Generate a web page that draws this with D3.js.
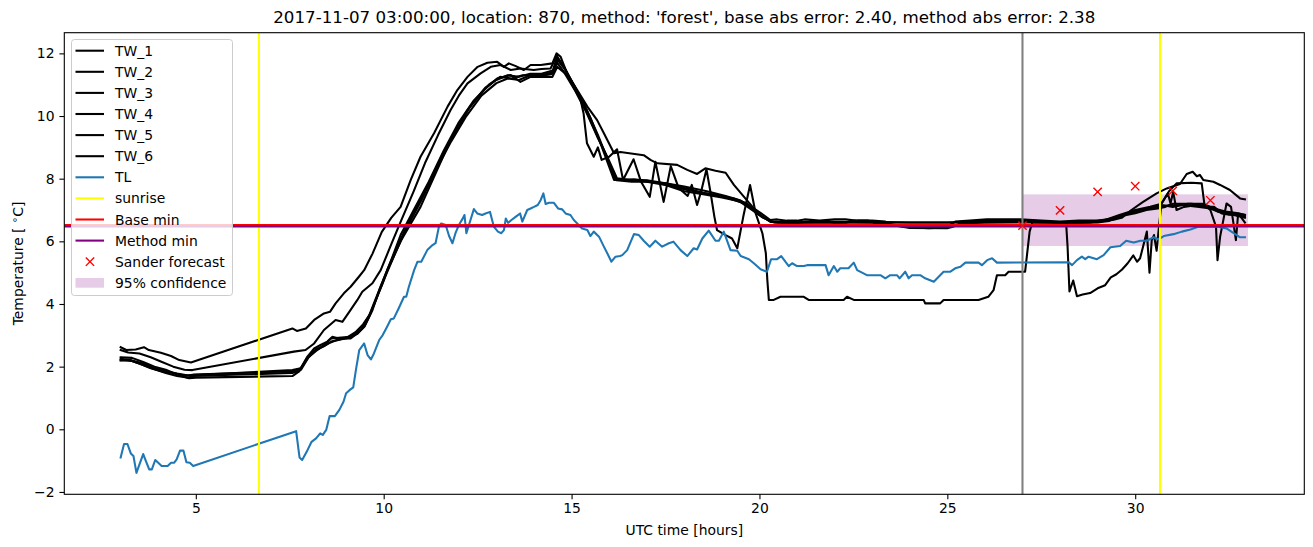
<!DOCTYPE html>
<html><head><meta charset="utf-8">
<script src="https://cdn.jsdelivr.net/npm/d3@7"></script>
<style>body{margin:0;background:#fff}svg{display:block}text{font-family:"DejaVu Sans",sans-serif;fill:#000}</style>
</head><body><svg id="c" width="1313" height="547"></svg>
<script>
const title = "2017-11-07 03:00:00, location: 870, method: 'forest', base abs error: 2.40, method abs error: 2.38";
const xTicks = [5,10,15,20,25,30];
const yTicks = [-2,0,2,4,6,8,10,12];
const seriesNames = ["TW_1","TW_2","TW_3","TW_4","TW_5","TW_6"];

const TW_1 = [[3.0,2.62],[3.15,2.53],[3.4,2.55],[3.62,2.62],[3.75,2.53],[4.07,2.44],[4.34,2.34],[4.56,2.21],[4.87,2.13],[7.57,3.22],[7.69,3.14],[7.93,3.22],[8.15,3.49],[8.41,3.7],[8.57,3.75],[8.72,4.02],[8.94,4.34],[9.12,4.55],[9.34,4.87],[9.48,5.08],[9.7,5.6],[9.95,6.3],[10.2,6.75],[10.45,7.1],[10.72,7.96],[10.98,8.7],[11.34,9.45],[11.7,10.3],[11.96,10.83],[12.23,11.25],[12.5,11.57],[12.76,11.7],[13.02,11.73],[13.2,11.57],[13.33,11.68],[13.5,11.6],[13.73,11.47],[13.91,11.63],[14.18,11.63],[14.49,11.68],[14.6,12.0],[14.71,11.89],[14.88,11.36],[15.15,10.83],[15.42,10.3],[15.68,9.87],[15.86,9.45],[16.13,8.81],[16.3,8.85],[16.44,8.83],[16.92,8.75],[17.1,8.6],[17.28,8.49],[17.81,8.44],[18.08,8.28],[18.34,8.15],[18.56,8.33],[18.83,8.25],[19.1,8.19],[19.32,7.8],[19.59,7.42],[19.85,7.05],[20.11,6.84],[20.29,6.68],[20.47,6.7],[20.73,6.66],[21.0,6.66],[21.2,6.7],[21.6,6.66],[22.0,6.7],[22.29,6.7],[22.6,6.66],[23.0,6.66],[23.35,6.63],[23.39,6.55],[24.06,6.47],[24.5,6.45],[25.0,6.47],[25.21,6.63],[25.6,6.66],[26.05,6.7],[26.94,6.7],[27.5,6.66],[28.0,6.63],[28.5,6.66],[29.0,6.66],[29.4,6.68],[29.64,6.75],[29.9,7.0],[30.2,7.25],[30.57,7.53],[30.84,7.69],[31.19,7.83],[31.37,8.15],[31.53,8.22],[31.64,8.08],[31.72,8.12],[31.81,7.96],[32.08,7.9],[32.26,7.8],[32.52,7.64],[32.79,7.37],[32.92,7.34]];
const TW_2 = [[3.0,2.53],[3.2,2.45],[3.5,2.42],[3.8,2.3],[4.1,2.15],[4.4,2.0],[4.7,1.9],[4.91,1.89],[7.61,2.48],[7.92,2.53],[8.15,2.74],[8.41,3.17],[8.72,3.49],[8.9,3.43],[9.12,3.81],[9.3,4.13],[9.43,4.39],[9.7,4.66],[9.92,5.08],[10.2,5.9],[10.45,6.62],[10.8,7.6],[11.1,8.5],[11.45,9.4],[11.78,10.19],[12.0,10.65],[12.23,11.04],[12.58,11.36],[12.85,11.57],[13.11,11.63],[13.38,11.47],[13.64,11.52],[13.99,11.47],[14.2,11.5],[14.44,11.52],[14.6,11.9],[14.8,11.57],[15.0,11.1],[15.24,10.61],[15.5,9.95],[15.77,9.13],[16.13,7.96],[16.66,7.98],[17.02,7.93],[17.55,7.8],[18.08,7.64],[18.79,7.48],[19.32,7.37],[19.67,7.21],[19.94,6.89],[20.29,6.63],[20.5,6.6],[21.0,6.6],[22.0,6.6],[23.0,6.62],[24.0,6.6],[25.0,6.6],[26.0,6.6],[27.0,6.62],[28.0,6.6],[28.8,6.6],[29.2,6.68],[29.6,6.85],[30.0,7.0],[30.4,7.1],[30.7,7.2],[30.9,7.6],[31.1,7.85],[31.5,7.87],[31.77,7.85],[31.85,7.1],[32.1,7.1],[32.3,6.9],[32.5,6.85],[32.7,6.85],[32.92,6.8]];
const TW_3 = [[3.0,2.2],[3.2,2.22],[3.5,2.1],[3.8,1.95],[4.1,1.85],[4.4,1.8],[4.7,1.72],[4.94,1.73],[7.57,1.89],[7.79,1.95],[7.97,2.32],[8.15,2.58],[8.32,2.69],[8.5,2.8],[8.63,2.95],[8.81,2.9],[9.12,2.9],[9.3,3.06],[9.48,3.27],[9.61,3.59],[9.79,4.13],[9.97,4.66],[10.1,5.08],[10.45,6.0],[10.98,7.1],[11.34,8.06],[11.78,9.23],[12.23,10.19],[12.67,10.83],[13.02,11.2],[13.38,11.31],[13.64,11.09],[13.91,11.25],[14.26,11.25],[14.49,11.25],[14.62,11.57],[14.88,11.31],[15.24,10.51],[15.32,10.08],[15.41,9.13],[15.59,8.7],[15.7,9.0],[15.8,8.6],[16.0,8.7],[16.21,8.94],[16.37,7.96],[16.65,8.62],[16.85,7.9],[17.08,7.42],[17.23,8.54],[17.45,7.26],[17.64,8.4],[17.85,7.7],[18.09,7.45],[18.2,7.8],[18.34,7.16],[18.45,7.6],[18.59,8.3],[18.7,7.55],[18.8,6.79],[18.87,6.36],[19.1,6.2],[19.27,6.09],[19.41,5.78],[19.57,6.79],[19.75,7.8],[19.9,6.89],[20.08,6.25],[20.17,5.62],[20.21,4.76],[20.25,4.13],[20.38,4.13],[20.56,4.23],[21.18,4.23],[21.31,4.13],[22.24,4.13],[22.33,4.23],[22.51,4.13],[24.37,4.13],[24.41,4.02],[24.81,4.02],[24.9,4.13],[25.83,4.13],[26.09,4.23],[26.23,4.44],[26.32,4.92],[26.54,4.92],[26.63,5.03],[27.07,5.03],[27.19,6.31],[27.26,6.6],[28.16,6.6],[28.2,5.83],[28.25,4.4],[28.35,4.75],[28.45,4.25],[28.6,4.3],[28.8,4.35],[29.0,4.5],[29.2,4.6],[29.35,4.85],[29.5,4.95],[29.65,5.1],[29.8,5.3],[29.95,5.55],[30.05,5.35],[30.13,5.46],[30.22,5.88],[30.31,6.31],[30.38,5.0],[30.44,6.04],[30.5,6.2],[30.57,5.7],[30.64,6.57],[30.7,7.21],[30.87,7.53],[30.94,7.21],[31.01,7.58],[31.1,7.0],[31.3,7.1],[31.6,7.15],[31.9,7.1],[32.0,7.0],[32.15,6.47],[32.19,5.4],[32.26,6.15],[32.43,7.21],[32.55,7.1],[32.68,6.04],[32.74,6.89],[32.92,6.84]];
const TW_4 = [[3.0,2.3],[3.3,2.28],[3.6,2.15],[3.9,2.0],[4.2,1.9],[4.5,1.75],[4.82,1.63],[5.0,1.65],[7.57,1.7],[7.75,1.85],[7.95,2.25],[8.15,2.5],[8.35,2.62],[8.55,2.75],[8.75,2.85],[9.0,2.9],[9.2,3.0],[9.4,3.2],[9.6,3.6],[9.8,4.2],[10.0,4.8],[10.2,5.4],[10.45,6.2],[10.8,7.0],[11.2,7.9],[11.6,8.9],[12.0,9.8],[12.4,10.5],[12.8,11.0],[13.1,11.25],[13.4,11.2],[13.7,11.3],[14.0,11.3],[14.3,11.3],[14.5,11.35],[14.62,11.7],[14.8,11.4],[15.1,10.8],[15.4,10.1],[15.7,9.3],[15.95,8.7],[16.21,8.01],[16.6,7.95],[17.0,7.9],[17.5,7.8],[18.0,7.6],[18.5,7.5],[19.0,7.4],[19.4,7.3],[19.7,7.15],[20.0,6.85],[20.3,6.62],[20.6,6.6],[21.5,6.6],[22.3,6.6],[22.5,6.66],[22.9,6.66],[23.1,6.6],[24.0,6.6],[25.0,6.6],[25.5,6.62],[26.0,6.66],[27.0,6.66],[28.0,6.6],[28.6,6.6],[29.0,6.62],[29.4,6.7],[29.7,6.85],[30.0,6.95],[30.4,7.05],[30.7,7.1],[30.9,7.15],[31.3,7.15],[31.7,7.1],[32.0,7.05],[32.3,6.9],[32.6,6.85],[32.92,6.75]];
const TW_5 = [[3.0,2.25],[3.3,2.2],[3.6,2.1],[3.9,1.95],[4.2,1.85],[4.5,1.78],[4.8,1.72],[4.95,1.75],[7.57,1.85],[7.8,1.95],[8.0,2.3],[8.2,2.55],[8.4,2.65],[8.6,2.8],[8.8,2.85],[9.05,2.95],[9.25,3.1],[9.45,3.35],[9.65,3.7],[9.85,4.3],[10.05,4.9],[10.3,5.6],[10.6,6.4],[11.0,7.3],[11.4,8.3],[11.8,9.2],[12.2,10.0],[12.6,10.65],[13.0,11.05],[13.3,11.2],[13.6,11.15],[13.9,11.3],[14.2,11.3],[14.5,11.4],[14.62,11.8],[14.85,11.45],[15.1,10.9],[15.4,10.2],[15.7,9.4],[16.0,8.5],[16.2,7.95],[16.6,7.9],[17.0,7.9],[17.5,7.85],[18.0,7.7],[18.5,7.55],[19.0,7.45],[19.5,7.25],[19.8,7.0],[20.1,6.75],[20.4,6.6],[21.0,6.6],[21.6,6.65],[22.0,6.6],[23.0,6.6],[24.0,6.45],[24.5,6.42],[25.1,6.45],[25.5,6.6],[26.0,6.6],[27.0,6.6],[27.5,6.62],[28.0,6.6],[28.7,6.6],[29.0,6.6],[29.3,6.65],[29.6,6.8],[30.0,6.9],[30.3,7.0],[30.6,7.05],[30.8,7.1],[31.0,7.2],[31.5,7.2],[31.8,7.15],[32.1,7.05],[32.4,6.95],[32.7,6.9],[32.92,6.85]];
const TW_6 = [[3.0,2.2],[3.3,2.18],[3.6,2.05],[3.9,1.92],[4.2,1.8],[4.5,1.7],[4.8,1.65],[4.95,1.7],[7.57,1.8],[7.8,1.9],[8.0,2.3],[8.2,2.5],[8.4,2.68],[8.6,2.9],[8.8,2.92],[9.1,2.95],[9.3,3.05],[9.5,3.3],[9.7,3.8],[9.9,4.5],[10.1,5.1],[10.35,5.8],[10.7,6.7],[11.1,7.6],[11.5,8.6],[11.9,9.5],[12.3,10.3],[12.7,10.9],[13.0,11.15],[13.3,11.3],[13.6,11.25],[13.9,11.35],[14.2,11.35],[14.5,11.45],[14.62,11.9],[14.8,11.55],[15.05,11.0],[15.3,10.4],[15.6,9.6],[15.9,8.8],[16.15,8.0],[16.5,7.95],[17.0,7.95],[17.5,7.85],[18.0,7.75],[18.6,7.6],[19.1,7.45],[19.5,7.3],[19.75,7.1],[20.05,6.8],[20.35,6.62],[21.0,6.6],[22.0,6.62],[23.0,6.6],[23.4,6.55],[24.0,6.43],[25.0,6.42],[25.3,6.55],[26.0,6.62],[27.0,6.62],[28.0,6.6],[28.8,6.62],[29.2,6.7],[29.5,6.75],[29.8,6.9],[30.1,7.0],[30.5,7.1],[30.75,7.15],[31.0,7.1],[31.4,7.2],[31.8,7.2],[32.0,7.1],[32.2,6.95],[32.5,6.9],[32.8,6.8],[32.92,6.6]];
const TL = [[3.0,-0.9],[3.09,-0.47],[3.18,-0.47],[3.27,-0.77],[3.34,-0.85],[3.42,-1.39],[3.51,-1.09],[3.6,-0.79],[3.68,-1.04],[3.76,-1.28],[3.83,-1.28],[3.92,-0.98],[4.0,-1.07],[4.09,-1.17],[4.18,-1.17],[4.25,-1.17],[4.34,-1.07],[4.42,-1.07],[4.49,-0.96],[4.58,-0.68],[4.67,-0.68],[4.75,-1.05],[4.84,-1.07],[4.93,-1.17],[7.67,-0.06],[7.76,-0.9],[7.83,-0.98],[7.95,-0.72],[8.08,-0.4],[8.2,-0.29],[8.31,-0.13],[8.38,-0.18],[8.47,-0.02],[8.56,0.42],[8.7,0.42],[8.82,0.62],[8.93,0.88],[9.0,1.15],[9.09,1.25],[9.19,1.34],[9.26,1.89],[9.35,2.53],[9.48,2.74],[9.57,2.37],[9.66,2.23],[9.74,2.42],[9.88,2.85],[9.97,3.0],[10.08,3.25],[10.19,3.51],[10.27,3.54],[10.41,3.89],[10.54,4.23],[10.6,4.23],[10.67,4.55],[10.81,5.08],[10.9,5.35],[11.0,5.35],[11.16,5.72],[11.3,5.88],[11.38,5.94],[11.47,6.47],[11.53,6.57],[11.65,6.52],[11.74,6.17],[11.83,5.94],[11.91,6.26],[12.0,6.52],[12.09,6.7],[12.15,6.84],[12.2,6.26],[12.31,6.68],[12.4,7.03],[12.49,6.89],[12.62,6.84],[12.71,6.89],[12.83,6.94],[12.93,6.47],[13.04,6.31],[13.13,6.26],[13.2,6.36],[13.25,6.73],[13.31,6.59],[13.4,6.68],[13.51,6.78],[13.63,6.89],[13.69,6.63],[13.82,7.0],[13.91,7.05],[14.0,7.1],[14.1,7.16],[14.18,7.32],[14.25,7.53],[14.31,7.19],[14.4,7.23],[14.53,7.23],[14.64,7.05],[14.75,7.02],[14.84,6.89],[14.97,6.84],[15.06,6.68],[15.15,6.57],[15.28,6.41],[15.42,6.36],[15.5,6.17],[15.59,6.31],[15.73,6.15],[15.86,5.83],[15.95,5.62],[16.06,5.35],[16.17,5.51],[16.29,5.53],[16.35,5.56],[16.48,5.72],[16.66,6.23],[16.79,6.2],[16.92,6.02],[17.08,5.83],[17.23,6.02],[17.41,5.83],[17.59,5.94],[17.71,5.99],[17.9,5.72],[18.08,5.53],[18.25,5.78],[18.34,5.74],[18.48,6.09],[18.65,6.34],[18.83,6.02],[18.92,6.02],[19.05,6.31],[19.23,5.72],[19.41,5.7],[19.5,5.53],[19.72,5.43],[19.85,5.3],[20.03,5.11],[20.2,5.03],[20.31,5.43],[20.47,5.43],[20.58,5.53],[20.69,5.35],[20.78,5.21],[20.87,5.3],[21.0,5.21],[21.18,5.21],[21.27,5.24],[21.44,5.24],[21.76,5.24],[21.84,4.92],[21.98,5.21],[22.07,5.03],[22.15,5.14],[22.37,5.14],[22.51,5.32],[22.6,5.08],[22.86,4.92],[23.22,4.92],[23.35,4.82],[23.48,4.92],[23.66,4.92],[23.73,4.82],[23.88,5.03],[23.97,4.82],[24.06,4.92],[24.28,4.92],[24.41,4.82],[24.64,4.71],[24.9,5.03],[25.08,5.03],[25.21,5.14],[25.35,5.19],[25.48,5.32],[25.83,5.32],[25.92,5.24],[26.06,5.4],[26.19,5.46],[26.32,5.32],[28.23,5.33],[28.32,5.24],[28.45,5.4],[28.58,5.51],[28.67,5.43],[28.76,5.51],[28.98,5.43],[29.16,5.56],[29.34,5.81],[29.6,5.85],[29.76,6.02],[29.96,5.96],[30.14,6.02],[30.31,6.02],[30.49,6.13],[30.62,6.06],[30.76,6.17],[31.02,6.23],[31.24,6.31],[31.47,6.38],[31.69,6.47],[32.21,6.47],[32.43,6.41],[32.61,6.27],[32.79,6.13],[32.92,6.13]];
const sunrise = [6.68, 30.66];
const nowLine = 27.0;
const baseMin = 6.52;
const methodMin = 6.475;
const sanderX = [27,28,29,30,31,32];
const sanderY = [6.50,6.99,7.58,7.76,7.61,7.31];
const confX = [27.0, 33.0];
const confLow = 5.85, confHigh = 7.5;

const svg = d3.select("#c");
const L=64.3,R=1304.3,T=32.7,B=494.3;
const x = d3.scaleLinear().domain([1.5,34.5]).range([L,R]);
const y = d3.scaleLinear().domain([-2.075,12.66]).range([B,T]);
const LW=2.08;
svg.append("clipPath").attr("id","clp").append("rect").attr("x",L).attr("y",T).attr("width",R-L).attr("height",B-T);
const g = svg.append("g").attr("clip-path","url(#clp)");

g.append("rect").attr("x",x(confX[0])).attr("width",x(confX[1])-x(confX[0]))
 .attr("y",y(confHigh)).attr("height",y(confLow)-y(confHigh)).attr("fill","#800080").attr("fill-opacity",0.2);

const line = d3.line().x(d=>x(d[0])).y(d=>y(d[1]));
[TW_1,TW_2,TW_3,TW_4,TW_5,TW_6].forEach(s=>{
  g.append("path").datum(s).attr("d",line).attr("fill","none").attr("stroke","#000").attr("stroke-width",LW).attr("stroke-linejoin","round").attr("stroke-linecap","square");
});
g.append("path").datum(TL).attr("d",line).attr("fill","none").attr("stroke","#1f77b4").attr("stroke-width",LW).attr("stroke-linejoin","round").attr("stroke-linecap","square");
sunrise.forEach(v=>g.append("line").attr("x1",x(v)).attr("x2",x(v)).attr("y1",T).attr("y2",B).attr("stroke","#ffff00").attr("stroke-width",LW));
g.append("line").attr("x1",L).attr("x2",R).attr("y1",y(baseMin)).attr("y2",y(baseMin)).attr("stroke","#ff0000").attr("stroke-width",LW);
g.append("line").attr("x1",L).attr("x2",R).attr("y1",y(methodMin)).attr("y2",y(methodMin)).attr("stroke","#800080").attr("stroke-width",LW);
g.append("line").attr("x1",x(nowLine)).attr("x2",x(nowLine)).attr("y1",T).attr("y2",B).attr("stroke","#808080").attr("stroke-width",LW);
const ms=4.17;
sanderX.forEach((xv,i)=>{
  const cx=x(xv), cy=y(sanderY[i]);
  g.append("path").attr("d",`M${cx-ms},${cy-ms}L${cx+ms},${cy+ms}M${cx-ms},${cy+ms}L${cx+ms},${cy-ms}`).attr("stroke","#ff0000").attr("stroke-width",1.4);
});

const fs=13.9;
const xa = svg.append("g").attr("transform",`translate(0,${B})`).call(d3.axisBottom(x).tickValues(xTicks).tickSize(4.9).tickPadding(4.2).tickFormat(d3.format("d")));
const ya = svg.append("g").attr("transform",`translate(${L},0)`).call(d3.axisLeft(y).tickValues(yTicks).tickSize(4.9).tickPadding(4.9).tickFormat(d=>d<0?"\u2212"+Math.abs(d):d));
[xa,ya].forEach(a=>{a.select(".domain").remove();a.selectAll("text").attr("font-family","DejaVu Sans").attr("font-size",fs).attr("fill","#000");a.selectAll("line").attr("stroke","#000").attr("stroke-width",1.1);});
svg.append("rect").attr("x",L).attr("y",T).attr("width",R-L).attr("height",B-T).attr("fill","none").attr("stroke","#000").attr("stroke-width",1.1);

svg.append("text").attr("x",(L+R)/2).attr("y",23).attr("text-anchor","middle").attr("font-size",16.7).text(title);
svg.append("text").attr("x",(L+R)/2).attr("y",535).attr("text-anchor","middle").attr("font-size",fs).text("UTC time [hours]");
const yl = svg.append("text").attr("transform",`translate(23,${(T+B)/2}) rotate(-90)`).attr("text-anchor","middle").attr("font-size",fs);
yl.append("tspan").text("Temperature [ ");
yl.append("tspan").attr("dy",-5).attr("font-size",10).text("\u2218");
yl.append("tspan").attr("dy",5).text("C]");

const lg = svg.append("g");
const lx=71.5, ly=39.5, lw=161, lh=256;
lg.append("rect").attr("x",lx).attr("y",ly).attr("width",lw).attr("height",lh).attr("rx",3).attr("fill","#fff").attr("fill-opacity",0.8).attr("stroke","#cccccc").attr("stroke-width",1);
const items = seriesNames.map(n=>({n,t:"line",c:"#000"})).concat([
 {n:"TL",t:"line",c:"#1f77b4"},{n:"sunrise",t:"line",c:"#ffff00"},{n:"Base min",t:"line",c:"#ff0000"},
 {n:"Method min",t:"line",c:"#800080"},{n:"Sander forecast",t:"x",c:"#ff0000"},{n:"95% confidence",t:"patch",c:"#800080"}]);
items.forEach((it,i)=>{
  const cy = 50.7 + i*21.1;
  if(it.t==="line") lg.append("line").attr("x1",75.5).attr("x2",104).attr("y1",cy).attr("y2",cy).attr("stroke",it.c).attr("stroke-width",LW);
  else if(it.t==="x"){const cx=90; lg.append("path").attr("d",`M${cx-ms},${cy-ms}L${cx+ms},${cy+ms}M${cx-ms},${cy+ms}L${cx+ms},${cy-ms}`).attr("stroke",it.c).attr("stroke-width",1.4);}
  else lg.append("rect").attr("x",75.5).attr("y",cy-4.8).attr("width",28.5).attr("height",9.7).attr("fill",it.c).attr("fill-opacity",0.2);
  lg.append("text").attr("x",115).attr("y",cy+5).attr("font-size",fs).text(it.n);
});
</script></body></html>
